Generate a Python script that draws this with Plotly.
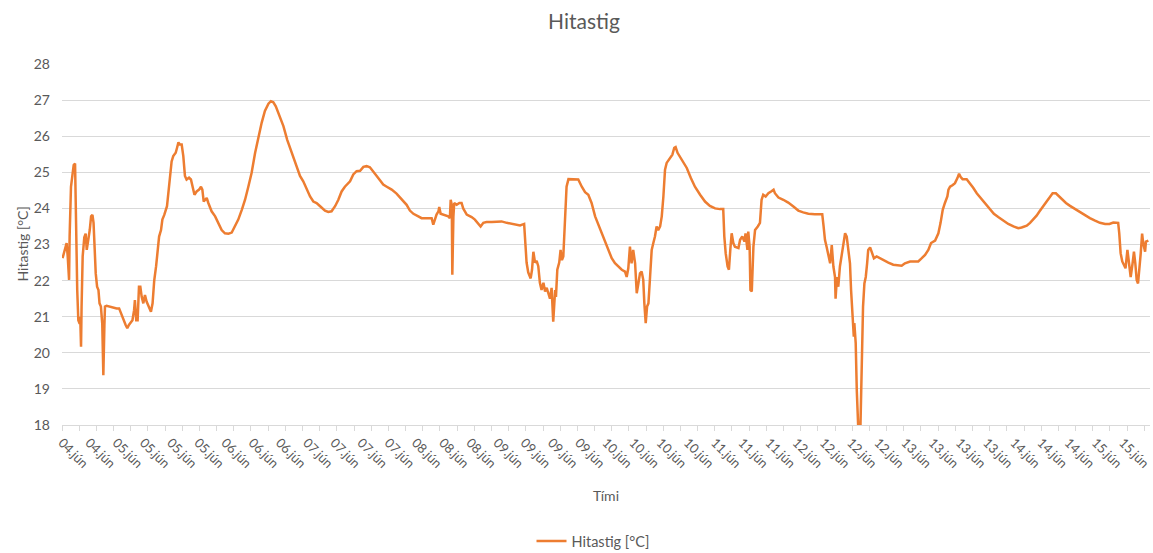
import plotly.graph_objects as go

# Time axis in "label steps" (one step = distance between two category labels)
time_steps = [
    0.02, 0.11, 0.17, 0.21, 0.26, 0.28, 0.31, 0.33, 0.38, 0.43, 0.48, 0.50, 0.53, 0.56, 0.60, 0.65,
    0.67, 0.70, 0.72, 0.76, 0.82, 0.87, 0.91, 0.97, 1.02, 1.07, 1.12, 1.16, 1.19, 1.24, 1.29, 1.34,
    1.38, 1.43, 1.48, 1.52, 1.56, 1.58, 1.64, 1.83, 2.01, 2.10, 2.17, 2.25, 2.34, 2.40, 2.46, 2.59,
    2.65, 2.68, 2.73, 2.78, 2.83, 2.88, 2.93, 2.99, 3.05, 3.11, 3.20, 3.27, 3.33, 3.39, 3.46, 3.52,
    3.57, 3.64, 3.69, 3.76, 3.81, 3.86, 3.91, 3.97, 4.03, 4.09, 4.18, 4.23, 4.28, 4.33, 4.40, 4.46,
    4.52, 4.58, 4.67, 4.74, 4.80, 4.87, 4.95, 5.04, 5.11, 5.16, 5.21, 5.26, 5.32, 5.38, 5.50, 5.63,
    5.75, 5.87, 5.99, 6.12, 6.24, 6.36, 6.48, 6.61, 6.73, 6.85, 6.97, 7.10, 7.22, 7.34, 7.46, 7.59,
    7.68, 7.77, 7.86, 7.98, 8.14, 8.28, 8.44, 8.59, 8.75, 8.87, 9.00, 9.12, 9.24, 9.36, 9.49,
    9.67, 9.79, 9.91, 10.04, 10.16, 10.28, 10.40, 10.59, 10.71, 10.83, 10.96, 11.08, 11.20, 11.32,
    11.45, 11.57, 11.69, 11.81, 11.94, 12.12, 12.30, 12.49, 12.67, 12.79, 12.92, 13.10, 13.22, 13.41,
    13.59, 13.65, 13.71, 13.77, 13.84, 13.87, 13.92, 14.02, 14.12, 14.20, 14.26, 14.29, 14.33, 14.35,
    14.39, 14.42, 14.51, 14.61, 14.69, 14.75, 14.88, 15.06, 15.18, 15.31, 15.39, 15.49, 15.61, 15.80,
    15.98, 16.16, 16.35, 16.53, 16.72, 16.84, 16.99, 17.03, 17.08, 17.14, 17.23, 17.28, 17.33, 17.39,
    17.45, 17.51, 17.57, 17.63, 17.70, 17.76, 17.82, 17.88, 17.94, 18.00, 18.06, 18.13, 18.16, 18.21,
    18.28, 18.33, 18.38, 18.43, 18.49, 18.55, 18.62, 18.80, 18.98, 19.11, 19.23,
    19.35, 19.47, 19.60, 19.72, 19.84, 19.96, 20.09, 20.21, 20.33, 20.45, 20.58, 20.70, 20.76, 20.82,
    20.88, 20.94, 21.00, 21.07, 21.13, 21.19, 21.25, 21.31, 21.37, 21.41, 21.46, 21.51, 21.56, 21.62,
    21.68, 21.74, 21.80, 21.86, 21.92, 21.99, 22.05, 22.11, 22.17, 22.23, 22.35, 22.44, 22.51, 22.56,
    22.63, 22.78, 22.97, 23.12, 23.27, 23.46, 23.64, 23.82, 24.01, 24.19, 24.31, 24.35, 24.40, 24.47,
    24.52, 24.57, 24.62, 24.68, 24.74, 24.87, 24.93, 25.01, 25.09, 25.13, 25.20, 25.23, 25.28, 25.31,
    25.36, 25.42, 25.48, 25.58, 25.66, 25.72, 25.78, 25.87, 25.97, 26.07, 26.16, 26.21, 26.34, 26.52,
    26.70, 26.89, 27.07, 27.25, 27.44, 27.68, 27.95, 28.00, 28.05, 28.11, 28.17, 28.24, 28.30, 28.36,
    28.42, 28.44, 28.49, 28.54, 28.60, 28.66, 28.72, 28.79, 28.85, 28.91, 28.97, 29.01, 29.06, 29.11,
    29.13, 29.18, 29.22, 29.25, 29.28, 29.35, 29.40, 29.45, 29.50, 29.55, 29.60, 29.64, 29.71, 29.79,
    29.85, 29.95, 30.07, 30.20, 30.38, 30.56, 30.75, 30.87, 30.99, 31.18, 31.36, 31.48, 31.61, 31.73,
    31.85, 31.95, 32.10, 32.22, 32.30, 32.38, 32.46, 32.55, 32.59, 32.65, 32.75, 32.83, 32.92, 32.98,
    33.04, 33.11, 33.26, 33.38, 33.50, 33.63, 33.75, 33.87, 33.99, 34.12, 34.26, 34.42, 34.61, 34.79,
    34.98, 35.16, 35.28, 35.47, 35.59, 35.71, 35.83, 35.96, 36.08, 36.20, 36.32, 36.42, 36.54, 36.67,
    36.79, 36.91, 37.06, 37.24, 37.43, 37.61, 37.79, 37.98, 38.16, 38.35, 38.51, 38.65, 38.83, 38.87,
    38.92, 38.98, 39.04, 39.10, 39.17, 39.24, 39.29, 39.36, 39.41, 39.46, 39.51, 39.56, 39.61, 39.66,
    39.71, 39.75, 39.82, 39.85, 39.94,
]

temperature = [
    22.62, 22.90, 23.04, 22.67, 22.02, 23.22, 23.78, 24.60, 24.90, 25.20, 25.24, 24.50, 22.40, 21.74, 20.90, 20.80,
    21.00, 20.17, 21.28, 22.67, 23.20, 23.30, 22.85, 23.13, 23.40, 23.78, 23.82, 23.60, 22.85, 22.20, 21.83, 21.74,
    21.37, 21.28, 20.80, 19.38, 20.80, 21.28, 21.30, 21.26, 21.23, 21.23, 21.10, 20.90, 20.77, 20.68, 20.77, 20.90,
    21.18, 21.46, 20.90, 20.90, 21.83, 21.83, 21.55, 21.37, 21.60, 21.42, 21.23, 21.14, 21.37, 22.00, 22.40, 22.85,
    23.22, 23.40, 23.69, 23.82, 23.96, 24.06, 24.42, 24.80, 25.30, 25.45, 25.54, 25.68, 25.83, 25.77, 25.77, 25.45,
    24.90, 24.80, 24.85, 24.80, 24.57, 24.38, 24.47, 24.52, 24.60, 24.52, 24.19, 24.24, 24.29, 24.15, 23.92, 23.78,
    23.60, 23.40, 23.31, 23.30, 23.33, 23.50, 23.69, 23.96, 24.24, 24.60, 24.98, 25.54, 26.00, 26.37, 26.70, 26.90,
    26.97, 26.94, 26.83, 26.60, 26.28, 25.90, 25.54, 25.20, 24.90, 24.75, 24.52, 24.33, 24.19, 24.15, 24.06,
    23.94, 23.90, 23.92, 24.06, 24.24, 24.47, 24.60, 24.75, 24.94, 25.03, 25.04, 25.15, 25.17, 25.14,
    25.03, 24.90, 24.78, 24.66, 24.60, 24.52, 24.41, 24.24, 24.10, 23.94, 23.85, 23.78, 23.73, 23.73,
    23.73, 23.55, 23.73, 23.83, 23.92, 24.04, 23.85, 23.83, 23.80, 23.78, 23.73, 24.24, 24.10, 22.16,
    23.78, 24.15, 24.10, 24.15, 24.15, 24.00, 23.83, 23.76, 23.69, 23.55, 23.50, 23.60, 23.62, 23.62,
    23.64, 23.64, 23.60, 23.57, 23.55, 23.53, 23.57, 23.20, 22.50, 22.23, 22.06, 22.30, 22.80, 22.50,
    22.55, 22.40, 21.94, 21.74, 21.94, 21.70, 21.80, 21.65, 21.50, 21.80, 20.86, 21.74, 21.55, 22.30,
    22.50, 22.85, 22.57, 22.67, 23.60, 24.60, 24.81, 24.81, 24.80, 24.60, 24.45,
    24.38, 24.15, 23.78, 23.55, 23.31, 23.08, 22.85, 22.62, 22.48, 22.39, 22.30, 22.25, 22.10, 22.34,
    22.94, 22.48, 22.85, 22.48, 21.65, 21.92, 22.20, 22.25, 22.02, 21.37, 20.82, 21.28, 21.37, 22.10,
    22.85, 23.04, 23.22, 23.50, 23.40, 23.50, 23.78, 24.33, 25.07, 25.26, 25.40, 25.49, 25.68, 25.70,
    25.54, 25.35, 25.12, 24.84, 24.60, 24.38, 24.19, 24.07, 24.00, 23.98, 23.98, 23.22, 22.76, 22.39,
    22.30, 22.85, 23.31, 23.04, 22.94, 22.90, 23.13, 23.22, 23.08, 23.31, 22.85, 23.36, 22.94, 21.74,
    21.70, 22.94, 23.40, 23.50, 23.60, 24.24, 24.38, 24.33, 24.42, 24.47, 24.52, 24.42, 24.30, 24.24,
    24.16, 24.05, 23.94, 23.89, 23.85, 23.84, 23.84, 23.50, 23.13, 22.94, 22.76, 22.48, 22.98, 22.39,
    22.10, 21.50, 22.10, 21.83, 22.39, 22.67, 23.04, 23.31, 23.22, 22.76, 22.48, 21.74, 21.00, 20.45,
    20.82, 20.27, 18.96, 18.22, 17.80, 17.80, 19.88, 21.28, 21.92, 22.10, 22.48, 22.85, 22.92, 22.76,
    22.62, 22.67, 22.62, 22.56, 22.50, 22.44, 22.42, 22.41, 22.48, 22.53, 22.53, 22.53, 22.62, 22.71,
    22.85, 23.04, 23.11, 23.31, 23.60, 23.96, 24.15, 24.33, 24.52, 24.60, 24.65, 24.70, 24.84, 24.96,
    24.87, 24.81, 24.81, 24.70, 24.57, 24.42, 24.31, 24.19, 24.07, 23.96, 23.85, 23.76, 23.66, 23.57,
    23.50, 23.45, 23.47, 23.52, 23.60, 23.69, 23.80, 23.94, 24.06, 24.17, 24.31, 24.42, 24.42, 24.33,
    24.22, 24.15, 24.07, 23.98, 23.89, 23.82, 23.73, 23.66, 23.60, 23.57, 23.57, 23.61, 23.60, 23.31,
    22.76, 22.53, 22.44, 22.34, 22.85, 22.48, 22.10, 22.48, 22.80, 22.48, 22.02, 21.92, 22.30, 22.76,
    23.30, 23.04, 22.80, 23.08, 23.11,
]

tick_labels = [
    "04.jún", "04.jún",
    "05.jún", "05.jún", "05.jún", "05.jún",
    "06.jún", "06.jún", "06.jún",
    "07.jún", "07.jún", "07.jún", "07.jún",
    "08.jún", "08.jún", "08.jún",
    "09.jún", "09.jún", "09.jún", "09.jún",
    "10.jún", "10.jún", "10.jún", "10.jún",
    "11.jún", "11.jún", "11.jún",
    "12.jún", "12.jún", "12.jún", "12.jún",
    "13.jún", "13.jún", "13.jún", "13.jún",
    "14.jún", "14.jún", "14.jún",
    "15.jún", "15.jún",
]

series_name = "Hitastig [°C]"
chart_title = "Hitastig"
x_title = "Tími"
y_title = "Hitastig [°C]"

FONT = "Lato, 'Open Sans', sans-serif"
TXT = "#595959"
GRID = "#d9d9d9"

n_labels = len(tick_labels)
x_end = float(n_labels)
minor_step = 12 / 19
minor_vals = []
v = 0.0
while v <= x_end + 1e-9:
    minor_vals.append(round(v, 4))
    v += minor_step

fig = go.Figure()
fig.add_trace(go.Scatter(
    x=time_steps, y=temperature, mode="lines", name=series_name,
    line=dict(color="#ED7D31", width=2.5), showlegend=True,
))

W, H = 1153, 553
ml, mr, mt, mb = 62, 3, 64, 128
pw, ph = W - ml - mr, H - mt - mb

fig.update_layout(
    width=W, height=H,
    margin=dict(l=ml, r=mr, t=mt, b=mb, pad=0, autoexpand=False),
    paper_bgcolor="white", plot_bgcolor="white",
    font=dict(family=FONT, color=TXT, size=14),
    title=dict(text=chart_title, x=584 / W, xanchor="center", y=1 - 22 / H, yanchor="middle",
               yref="container", font=dict(size=21, color=TXT, family=FONT)),
    showlegend=True,
    legend=dict(orientation="h", x=(593 - ml) / pw, xanchor="center", y=-(541 - (mt + ph)) / ph,
                yanchor="middle", font=dict(size=14.5, color=TXT), itemwidth=30,
                bgcolor="rgba(0,0,0,0)"),
    xaxis=dict(
        range=[0, x_end], tickmode="array", tickvals=list(range(n_labels)), ticktext=tick_labels,
        tickangle=45, ticks="", showgrid=False, zeroline=False, automargin=False,
        showline=True, linecolor=GRID, linewidth=1,
        tickfont=dict(size=13, color=TXT), ticklabelstandoff=4,
        minor=dict(tickmode="array", tickvals=minor_vals, ticks="outside", ticklen=5,
                   tickcolor=GRID, tickwidth=1, showgrid=False),
    ),
    yaxis=dict(
        range=[18, 28], dtick=1, tick0=18, showgrid=True, gridcolor=GRID, gridwidth=1,
        zeroline=False, showline=False, ticks="", tickfont=dict(size=14, color=TXT),
        ticklabelstandoff=11, automargin=False,
    ),
    annotations=[
        dict(text=y_title, x=(22 - ml) / pw, y=0.5, xref="paper", yref="paper", textangle=-90,
             showarrow=False, xanchor="center", yanchor="middle", font=dict(size=14, color=TXT)),
        dict(text=x_title, x=0.5, y=-(495 - (mt + ph)) / ph, xref="paper", yref="paper",
             showarrow=False, xanchor="center", yanchor="middle", font=dict(size=14, color=TXT)),
    ],
)

# remove the browser's default page margin so the figure sits at the window's top-left corner
page_fix = "document.body.style.margin='0';document.body.style.overflow='hidden';"
fig.write_html("out.html", post_script=page_fix, config={"displayModeBar": False})
